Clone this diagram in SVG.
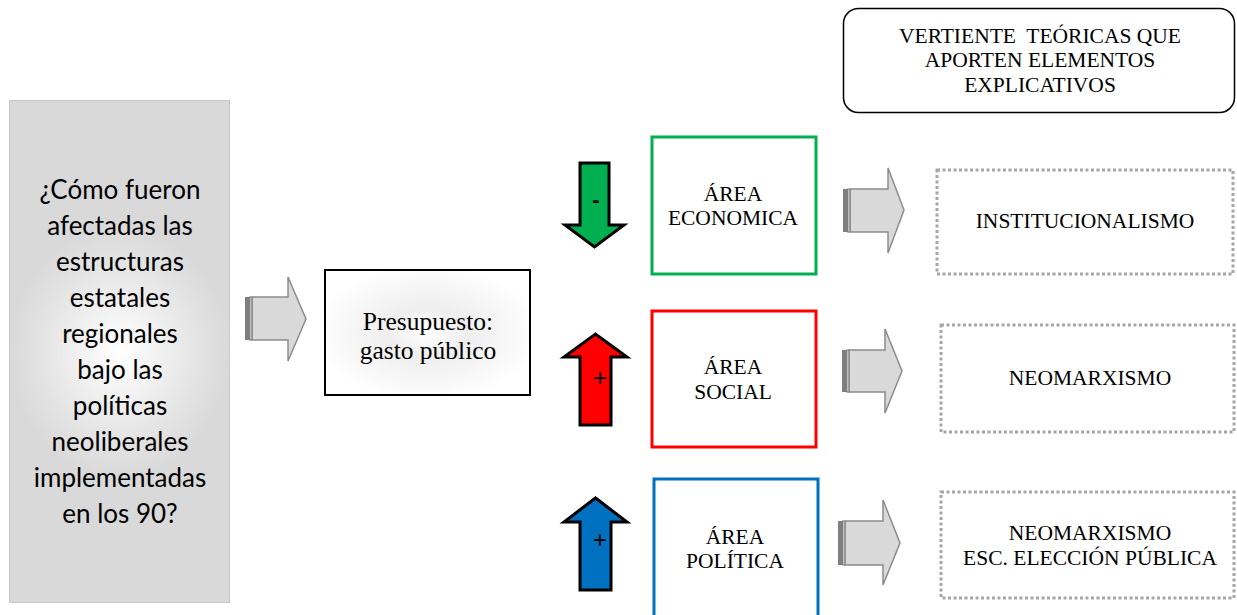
<svg xmlns="http://www.w3.org/2000/svg" width="1237" height="615" viewBox="0 0 1237 615">
<style>
.q{font-family:Lato,"Liberation Sans",sans-serif;font-size:26px;fill:#000;text-anchor:middle}
.t{font-family:"Liberation Serif","Times New Roman",serif;font-size:21.5px;fill:#000;text-anchor:middle}
.tb{font-family:"Liberation Serif","Times New Roman",serif;font-size:25.5px;fill:#000;text-anchor:middle}
.ga{fill:#d9d9d9;stroke:#8c8c8c;stroke-width:1.5}
.gs1{fill:#7f7f7f}
.gs2{fill:#bfbfbf;stroke:#7f7f7f;stroke-width:1}
.dot{fill:#fff;stroke:#a6a6a6;stroke-width:3;stroke-dasharray:3 2.5}
.ua{stroke:#000;stroke-width:3;stroke-linejoin:miter}
.sign{font-family:"Liberation Sans",Arial,sans-serif;fill:#000;text-anchor:middle}
</style>
<defs>
<radialGradient id="gq" cx="0.5" cy="0.5" r="0.5" gradientTransform="translate(0.5 0.5) scale(1 0.5) translate(-0.5 -0.5)" >
<stop offset="0" stop-color="#ffffff"/>
<stop offset="0.75" stop-color="#e2e2e2"/>
<stop offset="1" stop-color="#d9d9d9"/>
</radialGradient>
<radialGradient id="gp" cx="0.5" cy="0.5" r="0.55">
<stop offset="0" stop-color="#ffffff"/>
<stop offset="0.35" stop-color="#eeeeee"/>
<stop offset="0.7" stop-color="#f7f7f7"/>
<stop offset="1" stop-color="#ffffff"/>
</radialGradient>
</defs>
<rect width="1237" height="615" fill="#fff"/>

<g id="pregunta">
<rect x="9.5" y="100.5" width="220" height="502" fill="url(#gq)" stroke="#c8c8c8" stroke-width="1"/>
<text class="q" x="120" y="199">¿Cómo fueron</text>
<text class="q" x="120" y="235">afectadas las</text>
<text class="q" x="120" y="271">estructuras</text>
<text class="q" x="120" y="307">estatales</text>
<text class="q" x="120" y="343">regionales</text>
<text class="q" x="120" y="379">bajo las</text>
<text class="q" x="120" y="415">políticas</text>
<text class="q" x="120" y="451">neoliberales</text>
<text class="q" x="120" y="487">implementadas</text>
<text class="q" x="120" y="523">en los 90?</text>
</g>

<g id="presupuesto">
<rect x="325" y="270" width="205" height="125" fill="url(#gp)" stroke="#000" stroke-width="2"/>
<text class="tb" x="428" y="330">Presupuesto:</text>
<text class="tb" x="428" y="359">gasto público</text>
</g>

<g id="titulo">
<rect x="843.5" y="8.5" width="391" height="104" rx="15" ry="15" fill="#fff" stroke="#000" stroke-width="1.5"/>
<text class="t" x="1040" y="43" xml:space="preserve">VERTIENTE  TEÓRICAS QUE</text>
<text class="t" x="1040" y="67">APORTEN ELEMENTOS</text>
<text class="t" x="1040" y="92">EXPLICATIVOS</text>
</g>

<g id="area-economica">
<rect x="652" y="137" width="164" height="137" fill="#fff" stroke="#00b050" stroke-width="3"/>
<text class="t" x="733" y="201">ÁREA</text>
<text class="t" x="733" y="225">ECONOMICA</text>
</g>

<g id="area-social">
<rect x="652" y="311" width="164" height="136" fill="#fff" stroke="#ff0000" stroke-width="3"/>
<text class="t" x="733" y="374">ÁREA</text>
<text class="t" x="733" y="399">SOCIAL</text>
</g>

<g id="area-politica">
<rect x="654" y="479" width="164" height="140" fill="#fff" stroke="#0070c0" stroke-width="3"/>
<text class="t" x="735" y="544">ÁREA</text>
<text class="t" x="735" y="568">POLÍTICA</text>
</g>

<g id="institucionalismo">
<rect x="937" y="170" width="296" height="104" class="dot"/>
<text class="t" x="1085" y="228">INSTITUCIONALISMO</text>
</g>

<g id="neomarxismo">
<rect x="941" y="325" width="293" height="107" class="dot"/>
<text class="t" x="1090" y="385">NEOMARXISMO</text>
</g>

<g id="neomarxismo-eleccion">
<rect x="941" y="492" width="293" height="106" class="dot"/>
<text class="t" x="1090" y="540">NEOMARXISMO</text>
<text class="t" x="1090" y="565">ESC. ELECCIÓN PÚBLICA</text>
</g>

<g id="connectors">
<g>
<polygon class="ga" points="252,297 288,297 288,277 306,319 288,361 288,340 252,340"/>
<rect class="gs1" x="245" y="297" width="4" height="43"/>
<rect class="gs2" x="249.5" y="297" width="2.5" height="43"/>
</g>
<g>
<polygon class="ga" points="850,189 888,189 888,168 904,210 888,253 888,232 850,232"/>
<rect class="gs1" x="843" y="189" width="4" height="43"/>
<rect class="gs2" x="847.5" y="189" width="2.5" height="43"/>
</g>
<g>
<polygon class="ga" points="849,350 885,350 885,329 902,371 885,413 885,392 849,392"/>
<rect class="gs1" x="842" y="350" width="4" height="42"/>
<rect class="gs2" x="846.5" y="350" width="2.5" height="42"/>
</g>
<g>
<polygon class="ga" points="845,521 883,521 883,500 900,543 883,585 883,565 845,565"/>
<rect class="gs1" x="838" y="521" width="4" height="44"/>
<rect class="gs2" x="842.5" y="521" width="2.5" height="44"/>
</g>
<polygon class="ua" fill="#00b050" points="580,163 609,163 609,225 624,225 594.5,247 565,225 580,225"/>
<text class="sign" x="596" y="207" font-size="22" font-weight="bold">-</text>
<polygon class="ua" fill="#ff0000" points="580,425 611,425 611,357 627,357 595.5,334 564,357 580,357"/>
<text class="sign" x="600" y="386" font-size="24">+</text>
<polygon class="ua" fill="#0070c0" points="580,590 611,590 611,522 627,522 595.5,498 564,522 580,522"/>
<text class="sign" x="600" y="548" font-size="24">+</text>
</g>
</svg>
